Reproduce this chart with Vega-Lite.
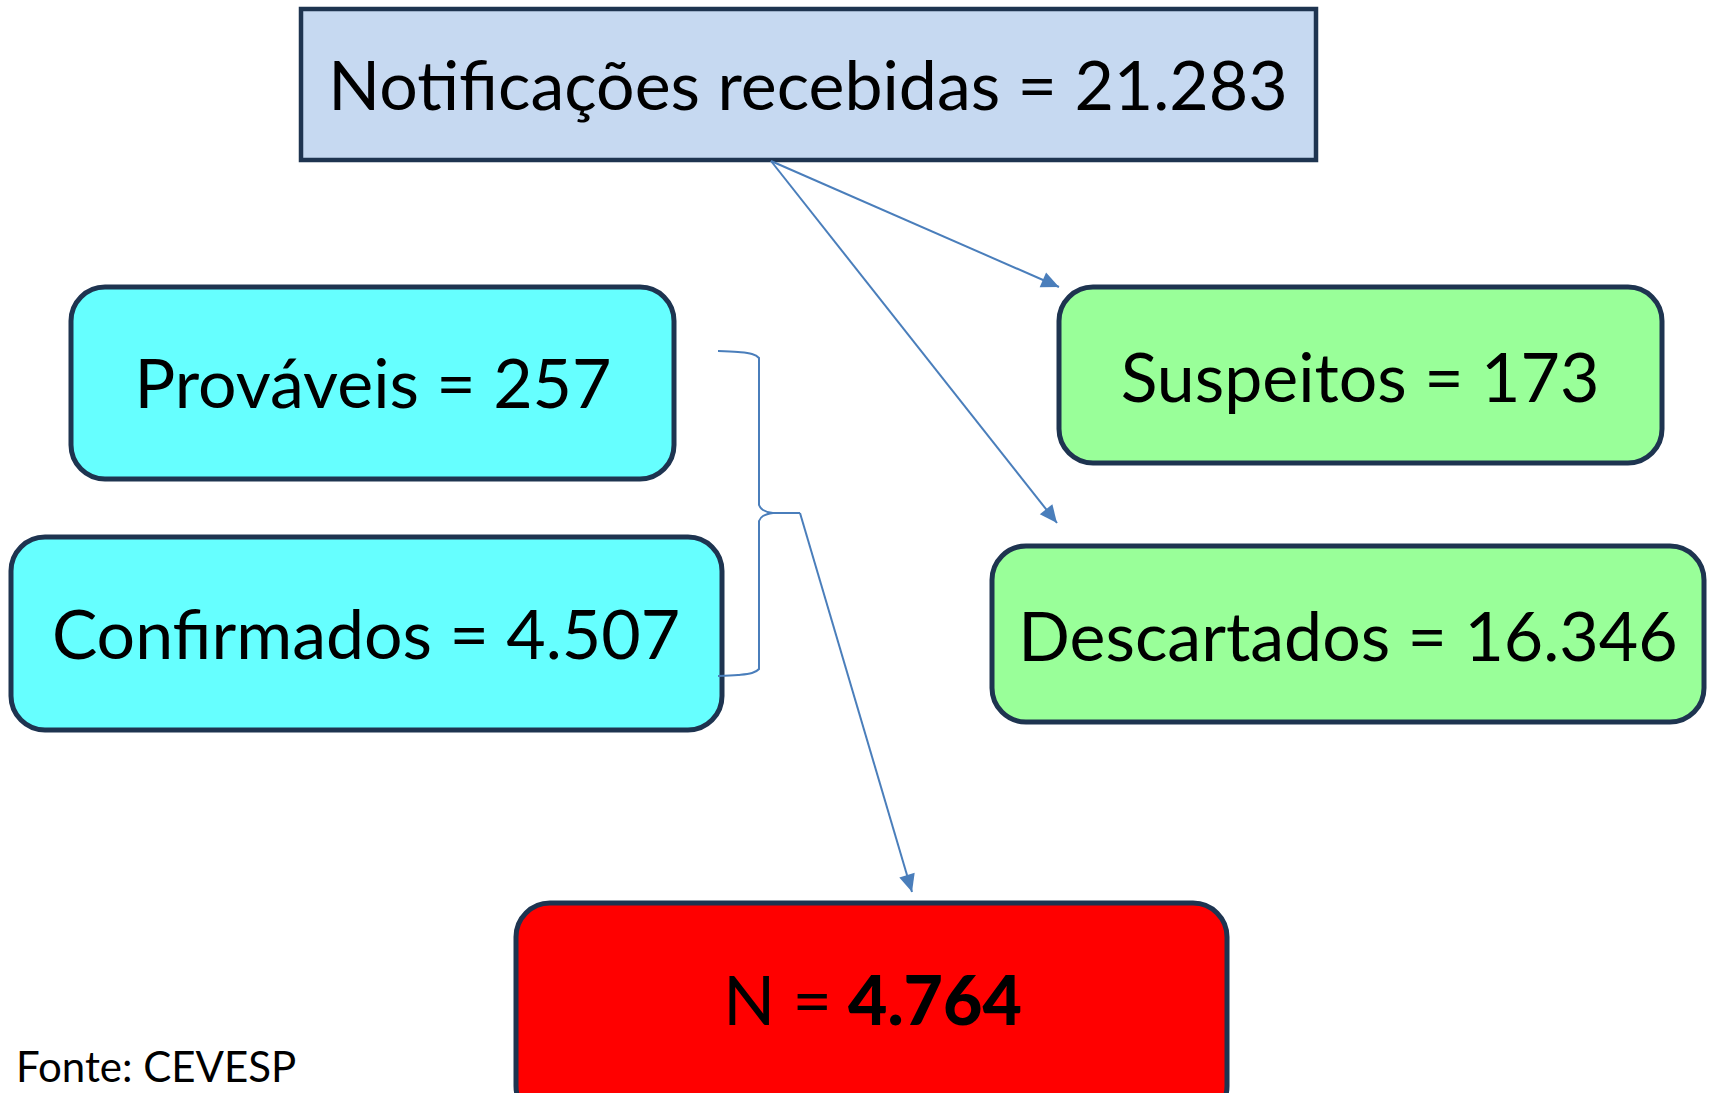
{
  "$schema": "https://vega.github.io/schema/vega-lite/v6.json",
  "width": 1709,
  "height": 1093,
  "autosize": {"type": "fit", "contains": "padding"},
  "padding": 0,
  "background": "white",
  "config": {"view": {"stroke": null}},
  "datasets": {
    "top": [{"name": "Notificações", "x": 301, "x2": 1316, "y": 9, "y2": 160}],
    "boxes": [
      {"name": "Prováveis", "group": "caso", "x": 71, "x2": 674, "y": 287, "y2": 479},
      {"name": "Confirmados", "group": "caso", "x": 11, "x2": 722, "y": 537, "y2": 730},
      {"name": "Suspeitos", "group": "outro", "x": 1059, "x2": 1662, "y": 287, "y2": 463},
      {"name": "Descartados", "group": "outro", "x": 992, "x2": 1704, "y": 546, "y2": 722},
      {"name": "N", "group": "total", "x": 516, "x2": 1227, "y": 903, "y2": 1120}
    ],
    "labels": [
      {"label": "Notificações recebidas = 21.283", "x": 808, "y": 110},
      {"label": "Prováveis = 257", "x": 373, "y": 408},
      {"label": "Confirmados = 4.507", "x": 366, "y": 659},
      {"label": "Suspeitos = 173", "x": 1360, "y": 402},
      {"label": "Descartados = 16.346", "x": 1348, "y": 661}
    ],
    "arrows": [
      {"from": "Notificações", "to": "Suspeitos", "x": 771, "y": 161, "x2": 1059, "y2": 287, "dir": 113.6},
      {"from": "Notificações", "to": "Descartados", "x": 771, "y": 161, "x2": 1057, "y2": 523, "dir": 141.7},
      {"from": "Prováveis+Confirmados", "to": "N", "x": 800, "y": 513, "x2": 912, "y2": 892, "dir": 163.5}
    ],
    "brace": [
      {"part": "a", "i": 0, "x": 718, "y": 351},
      {"part": "a", "i": 1, "x": 738, "y": 352},
      {"part": "a", "i": 2, "x": 752, "y": 354},
      {"part": "a", "i": 3, "x": 759, "y": 358},
      {"part": "a", "i": 4, "x": 759, "y": 505},
      {"part": "a", "i": 5, "x": 763, "y": 510},
      {"part": "a", "i": 6, "x": 773, "y": 513},
      {"part": "a", "i": 7, "x": 800, "y": 513},
      {"part": "b", "i": 0, "x": 773, "y": 513},
      {"part": "b", "i": 1, "x": 763, "y": 516},
      {"part": "b", "i": 2, "x": 759, "y": 521},
      {"part": "b", "i": 3, "x": 759, "y": 669},
      {"part": "b", "i": 4, "x": 752, "y": 673},
      {"part": "b", "i": 5, "x": 738, "y": 675},
      {"part": "b", "i": 6, "x": 718, "y": 676}
    ]
  },
  "layer": [
    {
      "data": {"name": "top"},
      "mark": {"type": "rect", "fill": "#C6D9F1", "stroke": "#1E3450", "strokeWidth": 4.5},
      "encoding": {
        "x": {"field": "x", "type": "quantitative", "scale": {"domain": [0, 1709], "nice": false, "zero": false}, "axis": null},
        "x2": {"field": "x2"},
        "y": {"field": "y", "type": "quantitative", "scale": {"domain": [0, 1093], "nice": false, "zero": false, "reverse": true}, "axis": null},
        "y2": {"field": "y2"}
      }
    },
    {
      "data": {"name": "boxes"},
      "mark": {"type": "rect", "stroke": "#1E3450", "strokeWidth": 5, "cornerRadius": 34, "clip": true},
      "encoding": {
        "x": {"field": "x", "type": "quantitative", "scale": {"domain": [0, 1709], "nice": false, "zero": false}, "axis": null},
        "x2": {"field": "x2"},
        "y": {"field": "y", "type": "quantitative", "scale": {"domain": [0, 1093], "nice": false, "zero": false, "reverse": true}, "axis": null},
        "y2": {"field": "y2"},
        "fill": {"field": "group", "type": "nominal", "scale": {"domain": ["caso", "outro", "total"], "range": ["#66FFFF", "#99FF99", "#FF0000"]}, "legend": null}
      }
    },
    {
      "data": {"name": "brace"},
      "mark": {"type": "line", "color": "#4A7EBB", "strokeWidth": 2, "interpolate": "monotone"},
      "encoding": {
        "x": {"field": "x", "type": "quantitative"},
        "y": {"field": "y", "type": "quantitative"},
        "detail": {"field": "part", "type": "nominal"},
        "order": {"field": "i", "type": "quantitative"}
      }
    },
    {
      "data": {"name": "arrows"},
      "mark": {"type": "rule", "color": "#4A7EBB", "strokeWidth": 2},
      "encoding": {
        "x": {"field": "x", "type": "quantitative"},
        "y": {"field": "y", "type": "quantitative"},
        "x2": {"field": "x2"},
        "y2": {"field": "y2"}
      }
    },
    {
      "data": {"name": "arrows"},
      "mark": {"type": "point", "shape": "M0,0L-1,2.2L1,2.2Z", "filled": true, "color": "#4A7EBB", "opacity": 1, "size": 256},
      "encoding": {
        "x": {"field": "x2", "type": "quantitative"},
        "y": {"field": "y2", "type": "quantitative"},
        "angle": {"field": "dir", "type": "quantitative", "scale": null}
      }
    },
    {
      "data": {"name": "labels"},
      "mark": {"type": "text", "font": "Lato", "fontSize": 68, "color": "black", "align": "center", "baseline": "alphabetic"},
      "encoding": {
        "x": {"field": "x", "type": "quantitative"},
        "y": {"field": "y", "type": "quantitative"},
        "text": {"field": "label"}
      }
    },
    {
      "data": {"values": [{"label": "N =", "x": 832, "y": 1025}]},
      "mark": {"type": "text", "font": "Lato", "fontSize": 68, "color": "black", "align": "right", "baseline": "alphabetic"},
      "encoding": {
        "x": {"field": "x", "type": "quantitative"},
        "y": {"field": "y", "type": "quantitative"},
        "text": {"field": "label"}
      }
    },
    {
      "data": {"values": [{"label": "4.764", "x": 848, "y": 1025}]},
      "mark": {"type": "text", "font": "Lato", "fontSize": 68, "fontWeight": 900, "color": "black", "align": "left", "baseline": "alphabetic"},
      "encoding": {
        "x": {"field": "x", "type": "quantitative"},
        "y": {"field": "y", "type": "quantitative"},
        "text": {"field": "label"}
      }
    },
    {
      "data": {"values": [{"label": "Fonte: CEVESP", "x": 16, "y": 1082}]},
      "mark": {"type": "text", "font": "Lato", "fontSize": 42, "color": "black", "align": "left", "baseline": "alphabetic"},
      "encoding": {
        "x": {"field": "x", "type": "quantitative"},
        "y": {"field": "y", "type": "quantitative"},
        "text": {"field": "label"}
      }
    }
  ]
}
